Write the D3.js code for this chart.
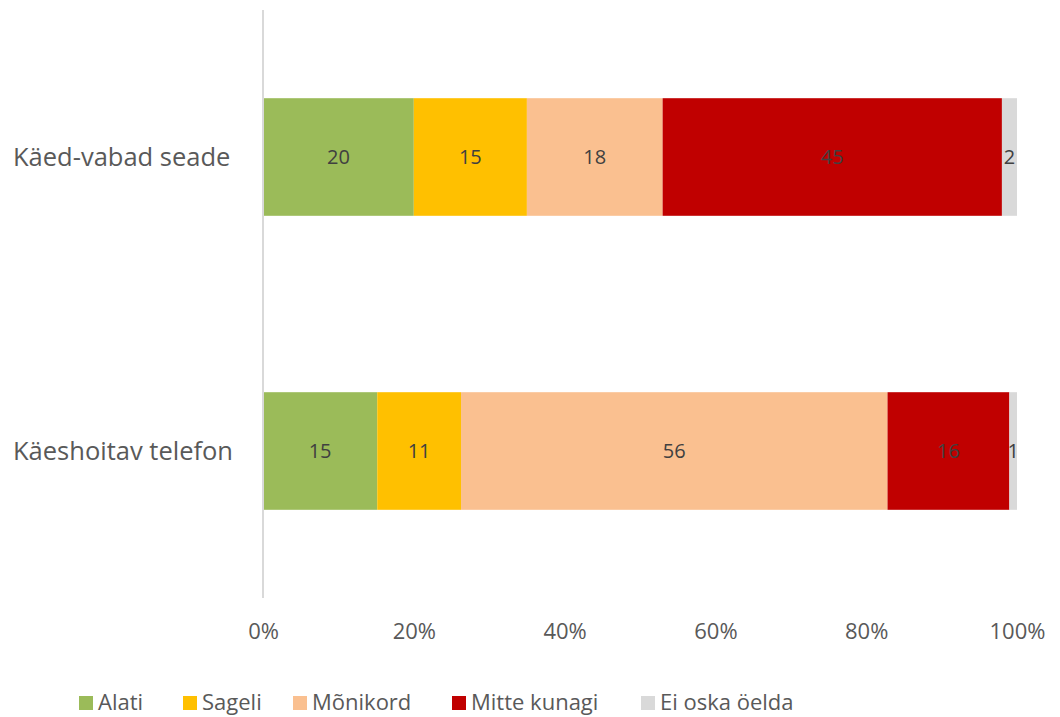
<!DOCTYPE html>
<html>
<head>
<meta charset="utf-8">
<script src="https://cdn.jsdelivr.net/npm/d3@7"></script>
<style>
  body { margin: 0; background: #fff; }
  text { font-family: "Open Sans", "Noto Sans", sans-serif; }
</style>
</head>
<body>
<div id="chart"></div>
<script>
const categories = ["Käed-vabad seade", "Käeshoitav telefon"];
const seriesNames = ["Alati", "Sageli", "Mõnikord", "Mitte kunagi", "Ei oska öelda"];
const seriesColors = ["#9bbb59", "#ffc000", "#fac090", "#c00000", "#d9d9d9"];
// values per category, in series order
const alati = [20, 15];
const sageli = [15, 11];
const monikord = [18, 56];
const mitteKunagi = [45, 16];
const eiOska = [2, 1];
const tickLabels = ["0%", "20%", "40%", "60%", "80%", "100%"];

const width = 1060, height = 717;
const margin = { top: 10, right: 43, bottom: 119, left: 263 };

const svg = d3.select("#chart").append("svg")
  .attr("width", width)
  .attr("height", height);

const columns = [alati, sageli, monikord, mitteKunagi, eiOska];
const rows = categories.map((c, i) => {
  const r = { cat: c };
  seriesNames.forEach((s, j) => r[s] = columns[j][i]);
  return r;
});

const stack = d3.stack().keys(seriesNames).offset(d3.stackOffsetExpand);
const layers = stack(rows);

const x = d3.scaleLinear().domain([0, 1]).range([margin.left, width - margin.right]);
const y = d3.scaleBand().domain(categories)
  .range([margin.top, height - margin.bottom])
  .paddingInner(0.6).paddingOuter(0.3);

const color = d3.scaleOrdinal().domain(seriesNames).range(seriesColors);

const layer = svg.selectAll(".layer")
  .data(layers)
  .enter().append("g")
  .attr("class", "layer")
  .attr("fill", d => color(d.key));

layer.selectAll("rect")
  .data(d => d)
  .enter().append("rect")
  .attr("x", d => x(d[0]))
  .attr("y", d => y(d.data.cat))
  .attr("width", d => x(d[1]) - x(d[0]))
  .attr("height", y.bandwidth());

// data labels
layers.forEach(l => {
  svg.append("g").selectAll("text")
    .data(l)
    .enter().append("text")
    .attr("x", d => (x(d[0]) + x(d[1])) / 2)
    .attr("y", d => y(d.data.cat) + y.bandwidth() / 2)
    .attr("dy", ".35em")
    .attr("text-anchor", "middle")
    .style("font-size", "20px")
    .style("fill", "#404040")
    .text(d => d.data[l.key]);
});

// vertical axis line
svg.append("line")
  .attr("x1", x(0)).attr("x2", x(0))
  .attr("y1", margin.top).attr("y2", height - margin.bottom)
  .attr("stroke", "#d9d9d9")
  .attr("stroke-width", 2);

// category labels
svg.selectAll(".cat")
  .data(categories)
  .enter().append("text")
  .attr("class", "cat")
  .attr("x", 13)
  .attr("y", d => y(d) + y.bandwidth() / 2)
  .attr("dy", ".35em")
  .attr("text-anchor", "start")
  .style("font-size", "25.5px")
  .style("fill", "#595959")
  .text(d => d);

// x axis
const xAxis = d3.axisBottom(x)
  .tickValues(d3.range(0, 1.01, 0.2))
  .tickFormat((d, i) => tickLabels[i])
  .tickSize(0)
  .tickPadding(0);

const gx = svg.append("g")
  .attr("transform", `translate(0,${height - margin.bottom + 25})`)
  .call(xAxis);
gx.select(".domain").remove();
gx.selectAll("text")
  .style("font-size", "22px")
  .style("font-family", "'Open Sans', 'Noto Sans', sans-serif")
  .style("fill", "#595959");

// legend
const legendX = [79, 183, 293, 452, 641];
const legend = svg.selectAll(".legend")
  .data(seriesNames)
  .enter().append("g")
  .attr("class", "legend")
  .attr("transform", (d, i) => `translate(${legendX[i]},696)`);

legend.append("rect")
  .attr("width", 14)
  .attr("height", 14)
  .attr("fill", d => color(d));

legend.append("text")
  .attr("x", 19)
  .attr("y", 14)
  .style("font-size", "22px")
  .style("fill", "#595959")
  .text(d => d);
</script>
</body>
</html>
